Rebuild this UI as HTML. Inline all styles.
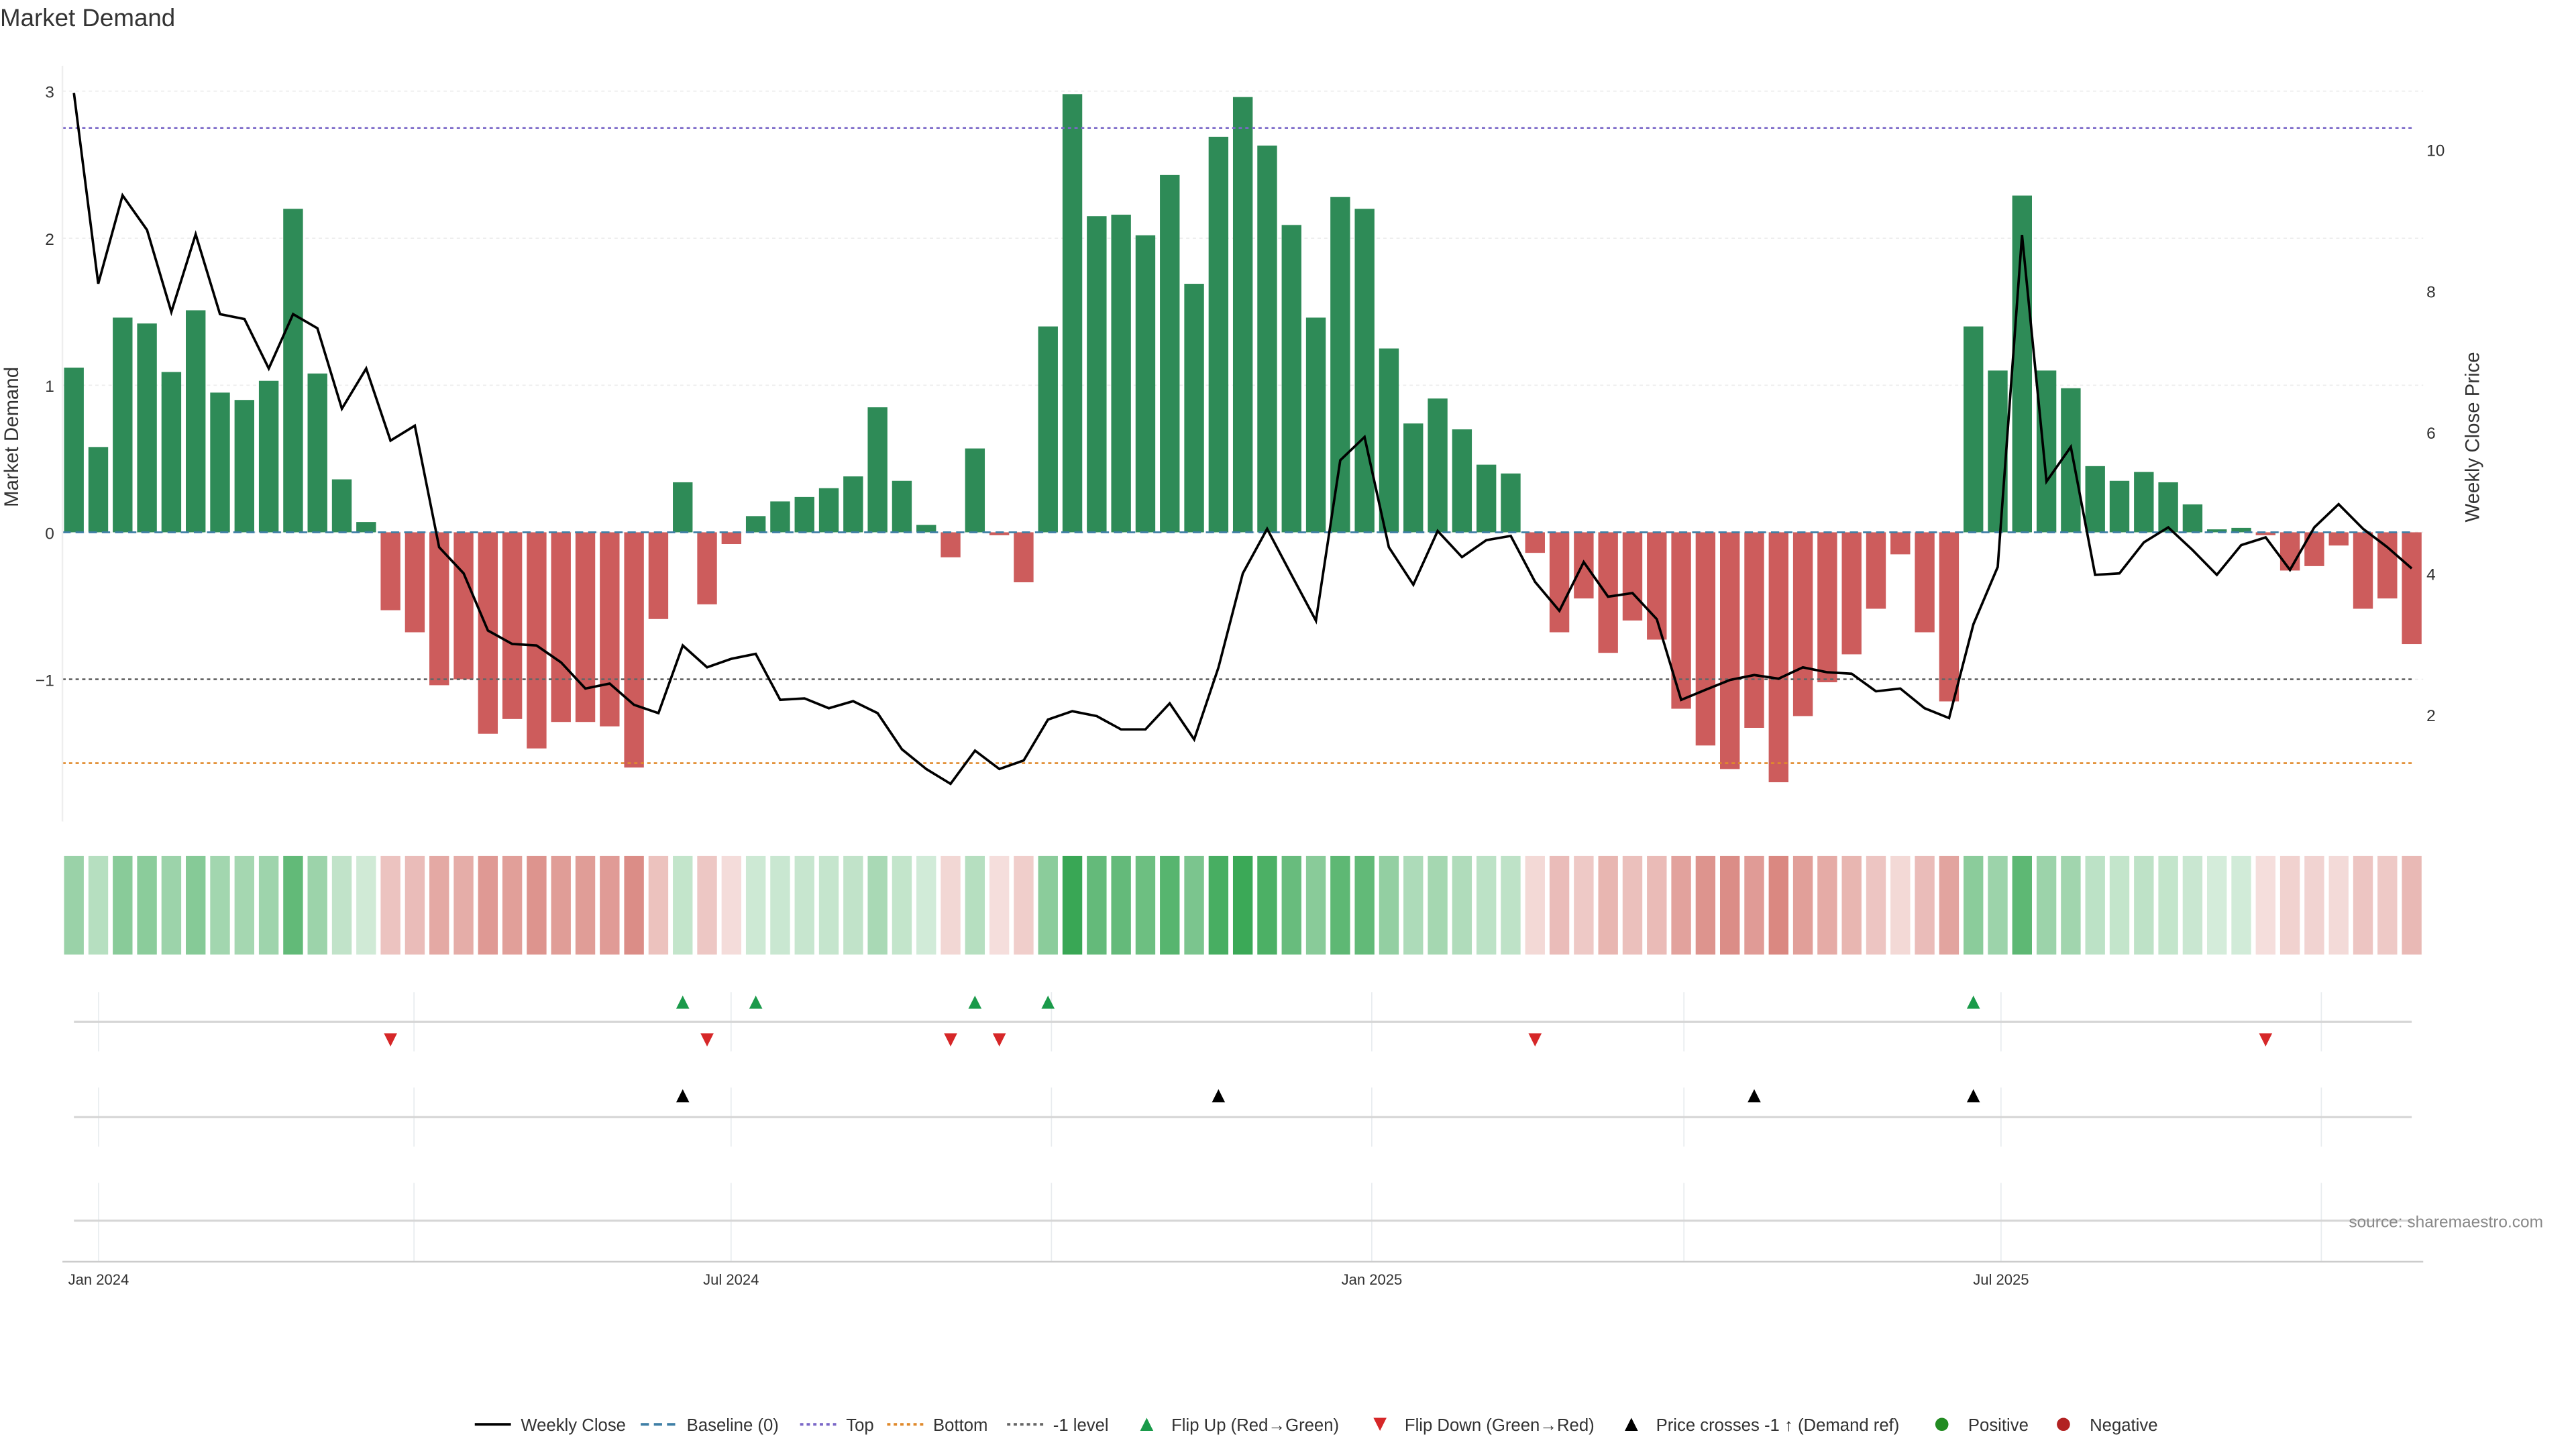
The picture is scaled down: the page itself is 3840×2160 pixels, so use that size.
<!DOCTYPE html>
<html><head><meta charset="utf-8"><style>
html,body{margin:0;padding:0;background:#fff}
svg{display:block;font-family:"Liberation Sans","DejaVu Sans",sans-serif}
</style></head><body>
<svg id="chart" width="3840" height="2160" viewBox="0 0 1568 882" preserveAspectRatio="none" xmlns="http://www.w3.org/2000/svg">
<text x="0" y="16" font-size="15" fill="#333">Market Demand</text>
<g id="grid"></g>
<g id="bars"></g>
<g id="heat"></g>
<g id="events"></g>
<g id="axes"></g>
<text x="11" y="266" font-size="12" fill="#333" transform="rotate(-90 11 266)" text-anchor="middle">Market Demand</text>
<text x="1509" y="266" font-size="12" fill="#333" transform="rotate(-90 1509 266)" text-anchor="middle">Weekly Close Price</text>
<text x="1548" y="747" font-size="10" fill="#888" text-anchor="end">source: sharemaestro.com</text>
<g id="legend"></g>
</svg>
<script>
const demand = [1.12,0.58,1.46,1.42,1.09,1.51,0.95,0.90,1.03,2.20,1.08,0.36,0.07,-0.53,-0.68,-1.04,-1.00,-1.37,-1.27,-1.47,-1.29,-1.29,-1.32,-1.60,-0.59,0.34,-0.49,-0.08,0.11,0.21,0.24,0.30,0.38,0.85,0.35,0.05,-0.17,0.57,-0.02,-0.34,1.40,2.98,2.15,2.16,2.02,2.43,1.69,2.69,2.96,2.63,2.09,1.46,2.28,2.20,1.25,0.74,0.91,0.70,0.46,0.40,-0.14,-0.68,-0.45,-0.82,-0.60,-0.73,-1.20,-1.45,-1.61,-1.33,-1.70,-1.25,-1.02,-0.83,-0.52,-0.15,-0.68,-1.15,1.40,1.10,2.29,1.10,0.98,0.45,0.35,0.41,0.34,0.19,0.02,0.03,-0.02,-0.26,-0.23,-0.09,-0.52,-0.45,-0.76];
const price = [10.8,8.1,9.35,8.86,7.7,8.8,7.67,7.6,6.9,7.67,7.47,6.33,6.9,5.88,6.09,4.37,4.0,3.19,3.0,2.98,2.74,2.37,2.44,2.14,2.02,2.98,2.67,2.79,2.86,2.21,2.23,2.09,2.19,2.02,1.51,1.23,1.02,1.49,1.23,1.35,1.93,2.05,1.98,1.79,1.79,2.16,1.65,2.67,4.0,4.63,3.98,3.33,5.6,5.93,4.37,3.84,4.6,4.23,4.47,4.53,3.88,3.47,4.16,3.67,3.72,3.35,2.21,2.35,2.49,2.56,2.51,2.67,2.60,2.58,2.33,2.37,2.09,1.95,3.28,4.09,8.79,5.3,5.79,3.98,4.0,4.44,4.65,4.33,3.98,4.4,4.51,4.05,4.65,4.98,4.63,4.37,4.07];
const crossIdx = [25,47,69,78];
const leftTicks = [3,2,1,0,-1];
const leftTickLabels = ["3","2","1","0","\u22121"];
const rightTicks = [10,8,6,4,2];
const topLevel = 2.75;
const bottomLevel = -1.57;
const monthWeeks = [1,27,53,80,106,132,158,184];
const monthLabels = ["Jan 2024","","Jul 2024","","Jan 2025","","Jul 2025",""];

const NS="http://www.w3.org/2000/svg";
function mk(tag,attrs,parent){const e=document.createElementNS(NS,tag);for(const k in attrs)e.setAttribute(k,attrs[k]);parent.appendChild(e);return e;}
const x0=45, step=14.823;
const xs = i => x0 + step*i;
const xw = w => x0 + step*(w-1)/1.0* (1) ; // unused helper
const yL = v => 324 - v*89.5;
const yR = p => 521 - p*43;
const monthX = [60,252,445,640,835,1025,1218,1413];

const grid=document.getElementById('grid');
leftTicks.forEach(v=>{const l=mk('line',{x1:38,x2:1475,y1:yL(v),y2:yL(v),stroke:'#eee','stroke-width':0.7,'stroke-dasharray':'2,2'},grid);
});
[[622,'events-up'],[680,'events-cross'],[743,'events-empty']].forEach(([yy])=>{
 const top=yy===622?604:(yy===680?662:720), bot=yy===622?640:(yy===680?698:768);
 monthX.forEach(mx=>{const g=mk('line',{x1:mx,x2:mx,y1:top,y2:bot,stroke:'#e8ecef','stroke-width':0.7},grid);
 });
 const l=mk('line',{x1:45,x2:1468,y1:yy,y2:yy,stroke:'#d6d6d6','stroke-width':1.3},grid);
 
});

const bars=document.getElementById('bars');
demand.forEach((v,i)=>{const y=yL(Math.max(v,0)),h=Math.abs(yL(v)-yL(0));
 const r=mk('rect',{x:xs(i)-6,y:y,width:12,height:h,fill:v>=0?'#2e8b57':'#cd5c5c'},bars);
 });
// reference lines
function hline(v,col,dash,name){const l=mk('line',{x1:38,x2:1468,y1:yL(v),y2:yL(v),stroke:col,'stroke-width':1.1,'stroke-dasharray':dash},bars);
 }
hline(0,'#3f7fa6','5,3','baseline-line');
hline(topLevel,'#7b68c8','2,2','top-line');
hline(bottomLevel,'#e08a2c','2,2','bottom-line');
hline(-1,'#666','2,2','minus-one-line');
const pts=price.map((p,i)=>xs(i).toFixed(1)+','+yR(p).toFixed(1)).join(' ');
const pl=mk('polyline',{points:pts,fill:'none',stroke:'#000','stroke-width':1.5},bars);


const heat=document.getElementById('heat');
demand.forEach((v,i)=>{const pos=v>=0;
 const op=pos?0.2+0.72*Math.min(Math.abs(v)/3,1):0.18+0.5*Math.min(Math.abs(v)/1.7,1);
 const r=mk('rect',{x:xs(i)-6,y:521,width:12,height:60,fill:pos?'#28a046':'#c85046','fill-opacity':op.toFixed(2)},heat);
 });

const ev=document.getElementById('events');
function tri(x,y,up,col,name){const d=up?`M${x-4},${y+4} L${x+4},${y+4} L${x},${y-4} Z`:`M${x-4},${y-4} L${x+4},${y-4} L${x},${y+4} Z`;
 const p=mk('path',{d:d,fill:col},ev);}
for(let i=1;i<demand.length;i++){
 if(demand[i-1]<0&&demand[i]>=0)tri(xs(i),610,true,'#1a9a4a','flip-up-marker');
 if(demand[i-1]>=0&&demand[i]<0)tri(xs(i),633,false,'#d62728','flip-down-marker');
}
crossIdx.forEach(i=>tri(xs(i),667,true,'#000','price-cross-marker'));

const ax=document.getElementById('axes');
leftTicks.forEach((v,k)=>{const t=mk('text',{x:33,y:yL(v)+4,'font-size':10,'text-anchor':'end',fill:'#333'},ax);t.textContent=leftTickLabels[k];
 });
rightTicks.forEach(p=>{const t=mk('text',{x:1477,y:yR(p)+4,'font-size':10,fill:'#333'},ax);t.textContent=p;
 });
const bl=mk('line',{x1:38,x2:1475,y1:768,y2:768,stroke:'#ccc','stroke-width':1},ax);

const ll=mk('line',{x1:38,x2:38,y1:40,y2:500,stroke:'#eee','stroke-width':1},ax);

monthX.forEach((mx,k)=>{if(!monthLabels[k])return;const t=mk('text',{x:mx,y:782,'font-size':9,'text-anchor':'middle',fill:'#333'},ax);t.textContent=monthLabels[k];
 });

const lg=document.getElementById('legend');
const items=[['line','#000','','Weekly Close',289],['line','#3f7fa6','5,3','Baseline (0)',390],['line','#7b68c8','2,2','Top',487],['line','#e08a2c','2,2','Bottom',540],['line','#666','2,2','-1 level',613],
 ['up','#1a9a4a','','Flip Up (Red\u2192Green)',693],['down','#d62728','','Flip Down (Green\u2192Red)',835],['up','#000','','Price crosses -1 \u2191 (Demand ref)',988],['dot','#228b22','','Positive',1182],['dot','#b22222','','Negative',1256]];
items.forEach(([kind,col,dash,label,x])=>{const y=867;
 if(kind==='line')mk('line',{x1:x,x2:x+22,y1:y,y2:y,stroke:col,'stroke-width':1.6,'stroke-dasharray':dash},lg);
 else if(kind==='dot')mk('circle',{cx:x,cy:y,r:4,fill:col},lg);
 else tri(x+5,y,kind==='up',col,'legend-marker');
 const off=kind==='line'?28:(kind==='dot'?16:20);
 const t=mk('text',{x:x+off,y:y+4,'font-size':10.5,fill:'#333'},lg);t.textContent=label;
 });
</script>
</body></html>
